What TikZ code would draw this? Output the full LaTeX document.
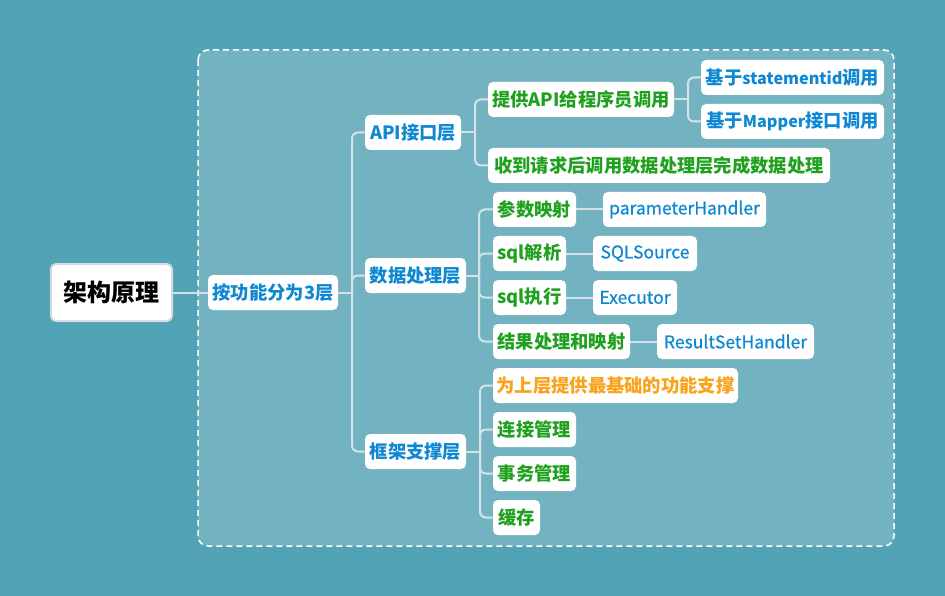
\documentclass[tikz,border=0pt]{standalone}
\usepackage{fontspec}
\setmainfont{Noto Sans CJK SC}
\newfontfamily\medfont{Noto Sans CJK SC}[FakeBold=0.6]
\newcommand{\latw}[1]{{\fontsize{16.2}{20}\selectfont #1}}
\definecolor{bgc}{HTML}{52A3B5}
\definecolor{inner}{HTML}{73B3C1}
\definecolor{tblue}{HTML}{0E88D3}
\definecolor{tgreen}{HTML}{1FA11F}
\definecolor{torange}{HTML}{F9A21B}
\definecolor{lnc}{HTML}{D5E3E8}
\definecolor{rootb}{HTML}{D3DCE0}
\tikzset{
  box/.style={fill=white, rounded corners=5pt, minimum height=35pt, inner sep=0pt, font=\fontsize{18.3}{20}\selectfont\bfseries},
  bl/.style={box, text=tblue},
  gr/.style={box, text=tgreen},
  blm/.style={box, text=tblue, font=\fontsize{17.5}{20}\medfont},
  conn/.style={draw=lnc, line width=2pt, rounded corners=6pt},
}
\begin{document}
\begin{tikzpicture}[x=1pt,y=-1pt]
\fill[bgc] (0,0) rectangle (945,596);
\useasboundingbox (0,0) rectangle (945,596);
\draw[white, fill=inner, line width=1.5pt, dash pattern=on 6pt off 4pt, rounded corners=10pt] (198,50) rectangle (894,546);

\node[box, text=black, draw=rootb, line width=2pt, minimum width=121pt, minimum height=57pt, font=\fontsize{24}{26}\selectfont\bfseries] (root) at (111.5,292.5) {架构原理};
\node[bl, minimum width=130pt] (l1) at (273,292.5) {按功能分为3层};
\node[bl, minimum width=96pt] (api) at (413,132.5) {API接口层};
\node[bl, minimum width=101pt] (data) at (415.5,275.5) {数据处理层};
\node[bl, minimum width=101pt] (frame) at (415.5,451.5) {框架支撑层};

\node[gr, minimum width=186pt] (a1) at (581,99.5) {提供API给程序员调用};
\node[gr, minimum width=342pt] (a2) at (659,165.5) {收到请求后调用数据处理层完成数据处理};
\node[bl, minimum width=183pt] (a11) at (792.5,77.5) {基于\latw{statementid}调用};
\node[bl, minimum width=183pt] (a12) at (792.5,121.5) {基于\latw{Mapper}接口调用};

\node[gr, minimum width=83pt] (d1) at (534.5,209.5) {参数映射};
\node[blm, minimum width=163pt] (d1b) at (684.5,209.5) {parameterHandler};
\node[gr, minimum width=73pt] (d2) at (529.5,253.5) {sql解析};
\node[blm, minimum width=104pt] (d2b) at (645,253.5) {SQLSource};
\node[gr, minimum width=73pt] (d3) at (529.5,297.5) {sql执行};
\node[blm, minimum width=84pt] (d3b) at (635,297.5) {Executor};
\node[gr, minimum width=137pt] (d4) at (561.5,341.5) {结果处理和映射};
\node[blm, minimum width=157pt] (d4b) at (735.5,341.5) {ResultSetHandler};

\node[box, text=torange, minimum width=245pt] (f1) at (615.5,385.5) {为上层提供最基础的功能支撑};
\node[gr, minimum width=83pt] (f2) at (534.5,429.5) {连接管理};
\node[gr, minimum width=83pt] (f3) at (534.5,473.5) {事务管理};
\node[gr, minimum width=47pt] (f4) at (516.5,517.5) {缓存};

\coordinate (s0) at (352,0);
\coordinate (sa) at (475,0);
\coordinate (sd) at (479,0);
\coordinate (sf) at (480,0);
\coordinate (sp) at (688,0);

\draw[conn] (root.east) -- (l1.west);
\draw[conn] (l1.east) -- (l1.east -| s0);
\foreach \c in {api,data,frame} \draw[conn] (l1.east -| s0) |- (\c.west);
\draw[conn] (api.east) -- (api.east -| sa);
\foreach \c in {a1,a2} \draw[conn] (api.east -| sa) |- (\c.west);
\draw[conn] (a1.east) -- (a1.east -| sp);
\foreach \c in {a11,a12} \draw[conn] (a1.east -| sp) |- (\c.west);
\draw[conn] (data.east) -- (data.east -| sd);
\foreach \c in {d1,d2,d3,d4} \draw[conn] (data.east -| sd) |- (\c.west);
\draw[conn] (frame.east) -- (frame.east -| sf);
\foreach \c in {f1,f2,f3,f4} \draw[conn] (frame.east -| sf) |- (\c.west);
\draw[conn] (d1.east) -- (d1b.west);
\draw[conn] (d2.east) -- (d2b.west);
\draw[conn] (d3.east) -- (d3b.west);
\draw[conn] (d4.east) -- (d4b.west);
\end{tikzpicture}
\end{document}
